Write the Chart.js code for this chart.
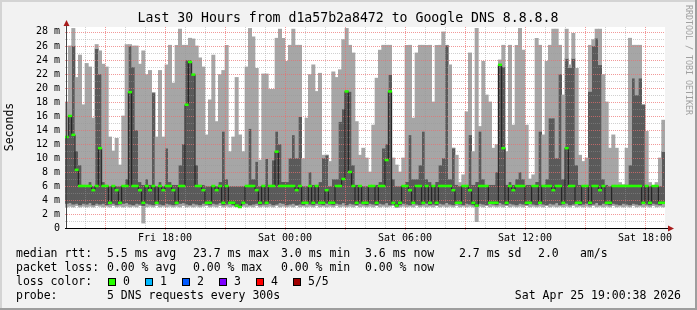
<!DOCTYPE html>
<html>
<head>
<meta charset="UTF-8">
<title>SmokePing d1a57b2a8472 - Google DNS 8.8.8.8</title>
<script src="https://cdn.jsdelivr.net/npm/chart.js"></script>
<style>
  html, body { margin: 0; padding: 0; background: #f2f2f2; }
  #grafico { display: block; }
</style>
</head>
<body>
<canvas id="grafico" width="697" height="310"></canvas>
<script>
  // 5 pings a cada passo, ordenados: min, lo, mediana, hi, max (ms)
  var stepMinutes = 10;
  var totalHours = 30;

  var minPing = [
    3.0, 3.1, 3.0, 3.2, 3.0, 3.1, 3.0, 3.1, 3.0, 3.2,
    3.1, 3.0, 3.1, 3.0, 3.2, 3.0, 3.1, 3.0, 3.1, 3.0,
    3.1, 3.0, 3.2, 0.7, 3.0, 3.1, 3.0, 3.2, 3.0, 3.1,
    3.0, 3.1, 3.0, 3.1, 3.0, 3.2, 3.0, 3.1, 3.0, 3.1,
    3.0, 3.1, 3.2, 3.0, 3.1, 3.0, 3.2, 3.0, 3.1, 3.0,
    3.1, 3.0, 2.9, 3.1, 3.0, 3.1, 3.0, 3.2, 3.0, 3.1,
    3.0, 3.1, 3.0, 3.2, 3.0, 3.1, 3.0, 3.1, 3.0, 3.2,
    3.0, 3.1, 3.0, 3.1, 3.0, 3.2, 3.0, 3.1, 3.0, 3.1,
    3.0, 3.2, 3.0, 3.1, 3.0, 3.1, 3.0, 3.2, 3.0, 3.1,
    3.0, 3.1, 3.0, 3.2, 3.0, 3.1, 3.0, 3.1, 3.2, 2.9,
    3.0, 3.1, 3.0, 3.1, 3.0, 3.2, 3.0, 3.1, 3.0, 3.1,
    3.0, 3.2, 3.0, 3.1, 3.0, 3.1, 3.0, 3.2, 3.0, 3.1,
    3.0, 3.1, 3.0, 0.9, 3.1, 3.0, 3.2, 3.0, 3.1, 3.0,
    3.1, 3.0, 3.2, 3.0, 3.1, 3.0, 3.1, 3.0, 3.2, 3.0,
    3.1, 3.0, 3.1, 3.0, 3.2, 3.0, 3.1, 3.0, 3.1, 3.0,
    3.1, 3.0, 3.2, 3.0, 3.1, 3.0, 3.1, 3.0, 3.2, 3.0,
    3.1, 3.0, 3.1, 3.0, 3.2, 3.0, 3.1, 3.0, 3.1, 3.0,
    3.2, 3.0, 3.1, 3.0, 3.1, 3.0, 3.2, 3.0, 3.1, 3.0
  ];

  var loPing = [
    3.5, 3.6, 3.4, 3.5, 3.3, 3.5, 3.4, 3.6, 3.3, 3.5,
    3.4, 3.5, 3.3, 3.4, 3.5, 3.3, 3.4, 3.5, 3.6, 3.4,
    3.3, 3.5, 3.4, 3.2, 3.5, 3.4, 3.3, 3.5, 3.4, 3.3,
    3.5, 3.4, 3.3, 3.4, 3.5, 3.6, 3.4, 3.3, 3.5, 3.4,
    3.3, 3.5, 3.4, 3.3, 3.5, 3.4, 3.6, 3.3, 3.4, 3.5,
    3.3, 3.1, 3.0, 3.4, 3.5, 3.3, 3.4, 3.5, 3.3, 3.4,
    3.4, 3.5, 3.3, 3.4, 3.6, 3.5, 3.3, 3.4, 3.5, 3.3,
    3.4, 3.3, 3.5, 3.4, 3.3, 3.5, 3.4, 3.3, 3.5, 3.4,
    3.3, 3.5, 3.4, 3.6, 3.3, 3.5, 3.4, 3.3, 3.5, 3.4,
    3.3, 3.5, 3.4, 3.3, 3.5, 3.4, 3.6, 3.3, 3.4, 3.1,
    3.3, 3.5, 3.4, 3.3, 3.5, 3.4, 3.3, 3.4, 3.5, 3.3,
    3.4, 3.3, 3.5, 3.4, 3.6, 3.4, 3.3, 3.5, 3.4, 3.3,
    3.5, 3.4, 3.3, 3.1, 3.5, 3.4, 3.3, 3.5, 3.4, 3.3,
    3.6, 3.4, 3.3, 3.5, 3.4, 3.3, 3.5, 3.4, 3.3, 3.5,
    3.4, 3.3, 3.5, 3.4, 3.3, 3.5, 3.4, 3.6, 3.3, 3.4,
    3.5, 3.3, 3.4, 3.5, 3.3, 3.4, 3.5, 3.3, 3.4, 3.6,
    3.3, 3.5, 3.4, 3.3, 3.5, 3.4, 3.3, 3.5, 3.4, 3.3,
    3.5, 3.4, 3.3, 3.5, 3.4, 3.3, 3.5, 3.4, 3.3, 3.5
  ];

  var medianPing = [
    13.0, 16.0, 13.3, 8.3, 6.0, 6.0, 6.0, 6.0, 5.4, 6.0,
    11.4, 6.0, 6.0, 3.6, 6.0, 5.4, 3.6, 6.0, 6.0, 19.4,
    6.0, 6.0, 5.4, 3.6, 6.0, 5.4, 6.0, 3.6, 6.0, 5.4,
    6.0, 6.0, 5.4, 3.6, 6.0, 6.0, 17.6, 23.7, 21.9, 6.0,
    6.0, 5.4, 3.6, 3.6, 6.0, 5.4, 6.0, 3.6, 6.0, 3.6,
    3.6, 3.2, 3.0, 3.6, 6.0, 6.0, 6.0, 5.4, 3.6, 6.0,
    3.6, 6.0, 6.0, 10.9, 6.0, 6.0, 6.0, 6.0, 6.0, 5.4,
    6.0, 3.6, 3.6, 6.0, 3.6, 6.0, 3.6, 3.6, 5.4, 3.6,
    3.6, 6.0, 6.0, 7.0, 19.5, 8.0, 6.0, 3.6, 6.0, 3.6,
    3.6, 6.0, 6.0, 3.6, 6.0, 6.0, 9.7, 19.5, 3.6, 3.2,
    3.6, 6.0, 6.0, 5.4, 3.6, 6.0, 6.0, 3.6, 6.0, 3.6,
    6.0, 3.6, 6.0, 6.0, 6.0, 6.0, 5.4, 3.6, 3.6, 6.0,
    6.0, 5.4, 3.6, 3.2, 6.0, 6.0, 6.0, 3.6, 3.6, 3.6,
    23.3, 11.4, 3.6, 6.0, 5.4, 6.0, 6.0, 6.0, 3.6, 3.6,
    6.0, 6.0, 3.6, 6.0, 6.0, 6.0, 5.4, 6.0, 6.0, 3.6,
    11.4, 6.0, 6.0, 3.6, 3.6, 6.0, 6.0, 3.6, 6.0, 6.0,
    5.4, 6.0, 3.6, 3.6, 6.0, 6.0, 6.0, 6.0, 6.0, 6.0,
    6.0, 6.0, 6.0, 3.6, 6.0, 3.6, 6.0, 6.0, 3.6, 3.6
  ];

  var hiPing = [
    13.0, 16.0, 26.0, 11.0, 9.0, 6.2, 6.0, 6.6, 6.0, 25.6,
    22.0, 6.6, 6.2, 6.0, 6.0, 6.0, 6.0, 6.0, 7.0, 26.0,
    23.0, 14.0, 6.6, 6.2, 7.0, 6.2, 19.3, 6.0, 6.6, 6.0,
    11.4, 6.6, 6.2, 6.2, 9.0, 12.0, 24.0, 24.0, 22.0, 9.0,
    6.2, 6.2, 6.0, 6.0, 6.2, 6.0, 6.6, 13.8, 7.0, 6.0,
    6.0, 6.0, 6.0, 6.0, 6.2, 14.2, 7.0, 9.5, 6.0, 6.2,
    9.9, 6.2, 9.7, 13.8, 12.0, 6.6, 6.6, 10.0, 13.3, 10.0,
    15.9, 6.0, 6.0, 8.0, 6.2, 6.2, 6.6, 10.0, 10.4, 6.0,
    7.0, 7.0, 15.2, 17.0, 19.5, 19.5, 9.0, 6.2, 6.0, 6.0,
    6.0, 6.0, 6.0, 6.2, 6.6, 11.4, 12.0, 21.9, 7.0, 6.0,
    6.0, 6.0, 6.6, 13.3, 7.0, 7.0, 9.0, 13.8, 7.0, 6.6,
    6.2, 6.6, 9.0, 10.0, 26.1, 7.0, 11.4, 6.2, 6.0, 6.0,
    6.2, 13.3, 6.2, 6.6, 13.8, 7.0, 6.2, 6.2, 6.2, 8.0,
    23.3, 23.0, 6.2, 6.6, 6.2, 7.0, 8.0, 7.0, 6.2, 6.2,
    6.0, 6.6, 13.8, 6.2, 7.0, 15.7, 15.7, 10.0, 22.0, 7.0,
    24.2, 22.9, 24.2, 9.0, 6.2, 6.0, 6.2, 19.5, 26.0, 27.1,
    23.3, 7.0, 6.2, 6.0, 6.2, 6.0, 6.0, 6.0, 6.2, 9.0,
    21.4, 19.0, 21.4, 17.6, 6.2, 6.0, 6.0, 6.0, 6.0, 10.9
  ];

  var maxPing = [
    18.0, 26.0, 28.5, 21.5, 24.7, 17.6, 23.5, 23.0, 15.7, 26.2,
    25.3, 23.4, 23.0, 13.0, 11.0, 12.8, 9.0, 16.0, 26.2, 26.2,
    26.0, 26.0, 23.4, 25.3, 21.9, 22.5, 19.3, 13.0, 22.5, 13.0,
    23.3, 26.1, 20.7, 26.1, 28.4, 26.1, 26.1, 27.1, 27.0, 26.0,
    24.3, 23.0, 13.3, 18.3, 24.7, 15.2, 21.9, 22.5, 26.1, 10.9,
    13.0, 21.5, 13.3, 10.9, 23.0, 28.5, 27.3, 22.8, 9.7, 22.0,
    22.0, 19.8, 19.8, 27.1, 28.4, 27.1, 23.8, 26.1, 28.4, 26.1,
    26.1, 9.9, 15.7, 21.9, 23.3, 19.5, 22.1, 10.4, 10.4, 9.5,
    22.3, 21.5, 22.6, 26.9, 28.5, 26.1, 25.0, 15.2, 10.4, 11.4,
    10.0, 8.0, 14.7, 21.4, 25.4, 26.1, 26.1, 26.1, 10.0, 9.0,
    8.0, 10.0, 26.1, 26.1, 15.7, 25.0, 26.1, 26.1, 26.1, 26.1,
    18.0, 26.1, 26.1, 28.0, 26.1, 23.3, 11.4, 10.4, 6.5, 7.6,
    16.6, 25.0, 10.9, 28.5, 14.5, 23.8, 19.0, 18.0, 11.4, 11.9,
    24.0, 26.1, 10.9, 26.1, 14.7, 26.1, 28.5, 25.4, 14.7, 7.0,
    7.6, 27.1, 26.1, 13.3, 23.8, 26.1, 28.4, 28.4, 26.1, 19.0,
    28.4, 23.3, 27.8, 22.8, 10.4, 9.5, 10.0, 26.1, 26.9, 28.4,
    28.4, 21.9, 18.0, 11.4, 13.3, 11.4, 6.5, 6.2, 11.4, 27.1,
    26.1, 26.1, 26.1, 17.6, 13.8, 6.5, 6.0, 6.5, 10.0, 15.4
  ];

  var xTickHours = [5, 11, 17, 23, 29];
  var xTickLabels = ['Fri 18:00', 'Sat 00:00', 'Sat 06:00', 'Sat 12:00', 'Sat 18:00'];
  var yTickValues = [0, 2, 4, 6, 8, 10, 12, 14, 16, 18, 20, 22, 24, 26, 28];
  var yTickLabels = ['0', '2 m', '4 m', '6 m', '8 m', '10 m', '12 m', '14 m', '16 m', '18 m', '20 m', '22 m', '24 m', '26 m', '28 m'];

  var titulo = 'Last 30 Hours from d1a57b2a8472 to Google DNS 8.8.8.8';
  var rttStats = ['5.5 ms avg', '23.7 ms max', '3.0 ms min', '3.6 ms now', '2.7 ms sd', '2.0', 'am/s'];
  var lossStats = ['0.00 % avg', '0.00 % max', '0.00 % min', '0.00 % now'];
  var lossLabels = ['0', '1', '2', '3', '4', '5/5'];
  var lossColors = ['#26ff00', '#00b8ff', '#0059ff', '#7e00ff', '#ff0000', '#a00000'];
  var probeText = '5 DNS requests every 300s';
  var dataHora = 'Sat Apr 25 19:00:38 2026';

  var fonte = '"DejaVu Sans Mono", monospace';

  function horaDoPasso(i) {
    return (i * stepMinutes + stepMinutes / 2) / 60;
  }

  function faixa(baixo, alto) {
    return baixo.map(function (v, i) {
      return { x: horaDoPasso(i), y: [v, alto[i]] };
    });
  }

  function pontos(serie) {
    return serie.map(function (v, i) {
      return { x: horaDoPasso(i), y: v };
    });
  }

  function desenharGrade(chart) {
    var ctx = chart.ctx;
    var area = chart.chartArea;
    var xs = chart.scales.x;
    var ys = chart.scales.y;
    ctx.save();
    ctx.lineWidth = 1;
    ctx.setLineDash([1, 1]);
    for (var v = 1; v <= 28; v++) {
      var py = Math.round(ys.getPixelForValue(v)) + 0.5;
      ctx.strokeStyle = v % 2 === 0 ? 'rgba(235,110,110,0.7)' : 'rgba(150,150,150,0.45)';
      ctx.beginPath();
      ctx.moveTo(area.left, py);
      ctx.lineTo(area.right, py);
      ctx.stroke();
    }
    for (var h = 1; h < totalHours; h++) {
      var px = Math.round(xs.getPixelForValue(h)) + 0.5;
      var maior = h % 3 === 2;
      ctx.strokeStyle = maior ? 'rgba(235,110,110,0.7)' : 'rgba(150,150,150,0.45)';
      ctx.beginPath();
      ctx.moveTo(px, area.top);
      ctx.lineTo(px, area.bottom + (maior ? 3 : 0));
      ctx.stroke();
    }
    ctx.restore();
  }

  var moldura = {
    id: 'moldura',
    beforeDraw: function (chart) {
      var ctx = chart.ctx;
      var area = chart.chartArea;
      ctx.save();
      ctx.fillStyle = '#f2f2f2';
      ctx.fillRect(0, 0, chart.width, chart.height);
      ctx.fillStyle = '#d4d4d4';
      ctx.fillRect(0, 0, chart.width, 2);
      ctx.fillRect(0, 0, 2, chart.height);
      ctx.fillStyle = '#9e9e9e';
      ctx.fillRect(0, chart.height - 2, chart.width, 2);
      ctx.fillRect(chart.width - 2, 0, 2, chart.height);
      ctx.fillStyle = '#ffffff';
      ctx.fillRect(area.left, area.top, area.right - area.left, area.bottom - area.top);
      ctx.restore();
    },
    beforeDatasetDraw: function (chart, args) {
      if (args.index === 1) desenharGrade(chart);
    },
    afterDraw: function (chart) {
      var ctx = chart.ctx;
      var area = chart.chartArea;
      ctx.save();

      // eixos e setas
      ctx.fillStyle = '#000';
      ctx.fillRect(area.left, area.bottom, area.right - area.left + 3, 1);
      ctx.fillStyle = '#444';
      ctx.fillRect(area.left + 1, area.top - 3, 1, area.bottom - area.top + 3);
      ctx.fillStyle = '#a81c1c';
      ctx.beginPath();
      ctx.moveTo(area.left + 1.5, area.top - 7);
      ctx.lineTo(area.left - 1.5, area.top - 1);
      ctx.lineTo(area.left + 4.5, area.top - 1);
      ctx.closePath();
      ctx.fill();
      ctx.beginPath();
      ctx.moveTo(area.right + 9, area.bottom + 0.5);
      ctx.lineTo(area.right + 3, area.bottom - 2.5);
      ctx.lineTo(area.right + 3, area.bottom + 3.5);
      ctx.closePath();
      ctx.fill();

      // titulo
      ctx.fillStyle = '#000';
      ctx.font = '13.2px ' + fonte;
      ctx.textAlign = 'center';
      ctx.textBaseline = 'middle';
      ctx.fillText(titulo, 348, 19);

      // eixo y
      ctx.font = '11.5px ' + fonte;
      ctx.save();
      ctx.translate(10, 127);
      ctx.rotate(-Math.PI / 2);
      ctx.fillText('Seconds', 0, 0);
      ctx.restore();

      // marca lateral
      ctx.save();
      ctx.fillStyle = '#a0a0a0';
      ctx.font = '8.3px ' + fonte;
      ctx.textAlign = 'left';
      ctx.translate(688, 5);
      ctx.rotate(Math.PI / 2);
      ctx.fillText('RRDTOOL / TOBI OETIKER', 0, 0);
      ctx.restore();

      // legenda
      ctx.fillStyle = '#000';
      ctx.textAlign = 'left';
      ctx.font = '11.5px ' + fonte;
      var colX = [107, 193, 281, 365, 459, 538, 580];
      ctx.fillText('median rtt:', 16, 254);
      rttStats.forEach(function (t, i) { ctx.fillText(t, colX[i], 254); });
      ctx.fillText('packet loss:', 16, 268);
      lossStats.forEach(function (t, i) { ctx.fillText(t, colX[i], 268); });
      ctx.fillText('loss color:', 16, 282);
      lossLabels.forEach(function (t, i) {
        var bx = 108 + i * 37;
        ctx.fillStyle = lossColors[i];
        ctx.fillRect(bx, 278, 8, 8);
        ctx.strokeStyle = '#000';
        ctx.lineWidth = 1;
        ctx.strokeRect(bx + 0.5, 278.5, 7, 7);
        ctx.fillStyle = '#000';
        ctx.fillText(t, bx + 15, 282);
      });
      ctx.fillText('probe:', 16, 296);
      ctx.fillText(probeText, 107, 296);
      ctx.textAlign = 'right';
      ctx.fillText(dataHora, 681, 296);
      ctx.restore();
    }
  };

  var barraComum = {
    type: 'bar',
    grouped: false,
    barPercentage: 1,
    categoryPercentage: 1,
    borderWidth: 0
  };

  var grafico = new Chart(document.getElementById('grafico'), {
    type: 'bar',
    data: {
      datasets: [
        {
          type: 'line',
          data: pontos(medianPing),
          showLine: false,
          pointStyle: 'line',
          pointRadius: 2,
          pointBorderWidth: 2.5,
          pointBorderColor: lossColors[0],
          pointBackgroundColor: lossColors[0],
          order: 0
        },
        {
          type: 'line',
          data: pontos(medianPing),
          stepped: 'middle',
          borderColor: '#1c1c1c',
          borderWidth: 1,
          pointRadius: 0,
          order: 1
        },
        Object.assign({ data: faixa(hiPing, maxPing), backgroundColor: '#a6a6a6', order: 2 }, barraComum),
        Object.assign({ data: faixa(loPing, hiPing), backgroundColor: '#5a5a5a', order: 3 }, barraComum),
        Object.assign({ data: faixa(minPing, loPing), backgroundColor: '#a6a6a6', order: 4 }, barraComum)
      ]
    },
    options: {
      responsive: false,
      animation: false,
      events: [],
      layout: { padding: { top: 27, right: 32, left: 0, bottom: 0 } },
      plugins: {
        legend: { display: false },
        tooltip: { enabled: false },
        title: { display: false }
      },
      scales: {
        x: {
          type: 'linear',
          min: 0,
          max: totalHours,
          offset: false,
          grid: { display: false, drawTicks: false },
          border: { display: false },
          afterBuildTicks: function (s) {
            s.ticks = xTickHours.map(function (h) { return { value: h }; });
          },
          afterFit: function (s) { s.height = 82; },
          ticks: {
            autoSkip: false,
            maxRotation: 0,
            padding: 4,
            color: '#000',
            font: { family: fonte, size: 10 },
            callback: function (v, i) { return xTickLabels[i]; }
          }
        },
        y: {
          min: 0,
          max: 28.7,
          grid: { display: false, drawTicks: false },
          border: { display: false },
          afterBuildTicks: function (s) {
            s.ticks = yTickValues.map(function (v) { return { value: v }; });
          },
          afterFit: function (s) { s.width = 65; },
          ticks: {
            autoSkip: false,
            padding: 5,
            color: '#000',
            font: { family: fonte, size: 10 },
            callback: function (v, i) { return yTickLabels[i]; }
          }
        }
      }
    },
    plugins: [moldura]
  });
</script>
</body>
</html>
